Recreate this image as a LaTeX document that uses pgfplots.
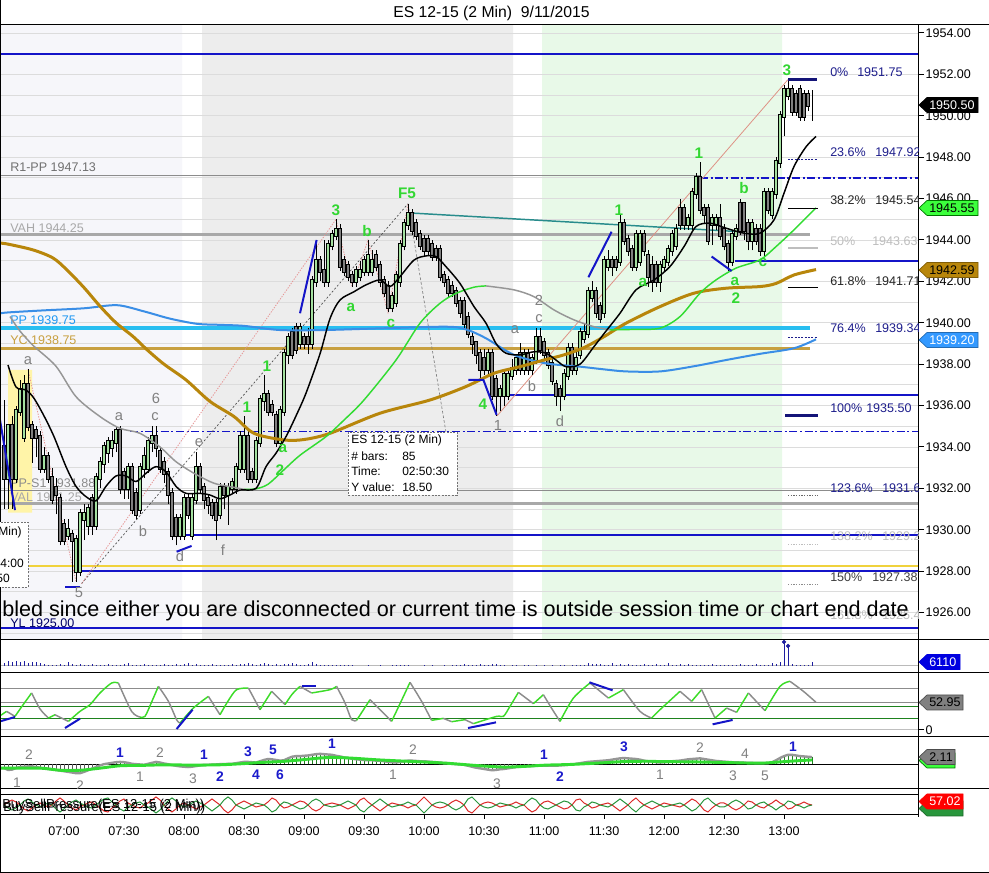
\documentclass[border=0pt]{standalone}
\usepackage{pgfplots}
\pgfplotsset{compat=1.18}
\usepackage{pgfplotstable}
\usepackage{fontspec}
\setmainfont{Liberation Sans}
\newcommand\fsz[1]{\fontsize{#1}{#1}\selectfont}

\definecolor{bgA}{RGB}{246,246,250}
\definecolor{bgB}{RGB}{237,237,237}
\definecolor{bgG}{RGB}{232,249,232}
\definecolor{gridc}{RGB}{220,220,220}
\definecolor{upc}{RGB}{164,224,160}
\definecolor{dnc}{RGB}{128,128,128}
\definecolor{lvblue}{RGB}{20,20,200}
\definecolor{navy2}{RGB}{20,20,120}
\definecolor{ppcyan}{RGB}{40,190,240}
\definecolor{ycgold}{RGB}{200,160,64}
\definecolor{vagray}{RGB}{168,168,168}
\definecolor{thgray}{RGB}{140,140,140}
\definecolor{ylw}{RGB}{240,210,60}
\definecolor{yelbox}{RGB}{255,244,168}
\definecolor{maGold}{RGB}{184,134,11}
\definecolor{maBlue}{RGB}{58,142,230}
\definecolor{maGray}{RGB}{150,150,150}
\definecolor{maGreen}{RGB}{50,220,50}
\definecolor{teal2}{RGB}{40,140,140}
\definecolor{wgreen}{RGB}{50,215,50}
\definecolor{wgray}{RGB}{128,128,128}
\definecolor{fibc}{RGB}{30,30,140}
\definecolor{fiblight}{RGB}{190,190,190}
\definecolor{volc}{RGB}{30,30,160}
\definecolor{oscgreen}{RGB}{60,220,40}
\definecolor{oscgray}{RGB}{140,140,140}
\definecolor{dkgreen}{RGB}{30,130,30}
\definecolor{bsred}{RGB}{220,40,40}
\definecolor{bsgreen}{RGB}{40,150,60}
\definecolor{pinkd}{RGB}{230,150,150}
\definecolor{tagGreen}{RGB}{60,255,60}
\definecolor{tagBlue}{RGB}{51,153,255}
\definecolor{volBlue}{RGB}{0,0,224}
\definecolor{lbldark}{RGB}{112,112,112}
\definecolor{lblblue}{RGB}{26,26,204}

\pgfplotstableread{
t o h l c v g r
30 1934.00 1936.25 1931.00 1932.50 4500 -1.2 0
32 1932.50 1935.00 1931.00 1935.00 7500 -1.8 3
34 1935.00 1935.50 1931.00 1932.50 6000 -1.7 5
36 1932.50 1936.00 1932.25 1935.75 7500 -1.2 3
38 1935.75 1937.25 1935.50 1936.75 6000 -0.9 0
40 1934.50 1937.50 1934.25 1937.00 7500 -0.8 -4
42 1937.00 1937.75 1934.75 1935.00 4500 -0.7 -6
44 1935.00 1935.25 1933.25 1934.50 6000 -0.7 -3
46 1934.75 1935.00 1933.50 1934.50 6000 -0.9 0
48 1934.50 1934.75 1932.75 1933.00 4500 -1.1 2
50 1933.00 1934.00 1932.75 1933.50 2250 -1.3 0
52 1933.50 1933.75 1932.25 1932.50 1500 -1.5 -2
54 1932.50 1933.00 1931.25 1931.50 1500 -1.6 0
56 1932.00 1932.50 1930.75 1931.75 1500 -1.8 4
58 1931.50 1931.75 1929.25 1929.50 2250 -2.0 7
60 1930.25 1930.50 1929.25 1929.50 1500 -2.2 4
62 1929.75 1930.50 1929.50 1930.00 6000 -2.4 0
64 1929.75 1930.00 1927.50 1929.50 2250 -2.6 -3
66 1928.00 1929.75 1927.50 1929.50 1500 -2.8 -5
68 1928.00 1931.00 1927.75 1930.75 2250 -2.8 -2
70 1930.50 1931.25 1929.50 1930.75 1500 -2.4 0
72 1930.25 1931.25 1929.75 1931.00 1500 -1.9 2
74 1931.50 1931.75 1929.75 1930.25 2250 -1.4 3
76 1930.25 1932.75 1930.00 1932.50 1500 -0.9 0
78 1932.50 1933.50 1932.00 1933.25 1500 -0.4 -3
80 1933.25 1934.25 1932.75 1934.00 1500 0.0 -6
82 1933.75 1934.50 1933.25 1934.25 2250 0.2 -7
84 1934.00 1934.75 1933.50 1934.25 1500 0.4 -3
86 1934.25 1935.00 1933.75 1934.75 1500 0.6 0
88 1934.75 1935.00 1931.75 1932.00 1500 0.7 4
90 1932.75 1933.00 1931.50 1932.00 2250 0.6 6
92 1932.00 1933.25 1931.50 1933.00 4500 0.4 2
94 1933.00 1933.25 1930.75 1931.00 1500 0.1 0
96 1931.75 1932.00 1930.50 1930.75 1500 0.0 -2
98 1931.00 1933.25 1930.75 1933.00 1500 -0.1 -3
100 1933.00 1934.00 1932.50 1933.50 2250 -0.2 0
102 1933.00 1934.50 1932.75 1934.25 1500 0.1 2
104 1934.25 1935.00 1933.75 1934.50 1500 0.4 5
106 1934.50 1935.00 1933.50 1934.00 1500 0.7 8
108 1933.75 1934.00 1932.75 1933.00 1500 0.5 5
110 1933.25 1933.50 1932.25 1932.75 2250 0.2 0
112 1932.75 1933.00 1931.25 1931.75 1500 0.0 -4
114 1931.75 1932.00 1929.50 1929.75 1500 -0.3 -7
116 1930.50 1930.75 1929.25 1929.75 2250 -0.5 -4
118 1929.75 1930.75 1929.50 1930.50 1500 -0.7 0
120 1929.75 1931.75 1929.50 1931.50 2250 -0.8 2
122 1931.50 1931.75 1930.50 1930.75 4500 -0.9 0
124 1929.75 1931.75 1929.50 1931.50 1500 -0.8 -2
126 1931.50 1933.75 1931.25 1933.00 2250 -0.6 -4
128 1933.00 1933.25 1931.75 1932.00 1500 -0.4 -2
130 1932.00 1932.25 1931.00 1931.50 1500 -0.2 0
132 1931.50 1931.75 1930.75 1931.25 1500 -0.2 3
134 1931.25 1931.50 1930.50 1930.75 2250 -0.1 6
136 1931.25 1931.50 1929.50 1930.50 1500 -0.1 3
138 1930.75 1932.25 1930.50 1932.00 1500 0.0 0
140 1932.00 1932.25 1931.00 1931.75 1500 0.0 -5
142 1931.75 1932.25 1930.25 1932.00 1500 0.1 -8
144 1932.00 1932.50 1931.75 1932.25 2250 0.1 -5
146 1932.00 1933.25 1931.75 1933.00 1500 0.3 0
148 1933.00 1934.75 1932.75 1934.50 2250 0.5 2
150 1933.00 1935.50 1932.75 1934.50 3000 0.7 4
152 1934.50 1934.75 1932.25 1932.50 4500 0.7 2
154 1932.75 1933.00 1932.25 1932.50 2250 0.6 0
156 1932.50 1934.50 1932.25 1934.25 1500 0.5 -2
158 1934.25 1936.50 1934.00 1936.25 3000 0.9 -1
160 1936.25 1937.50 1935.75 1936.50 4500 1.3 0
162 1936.50 1936.75 1935.50 1935.75 2250 1.6 3
164 1936.00 1936.25 1935.50 1935.75 1500 1.5 7
166 1935.50 1935.75 1934.00 1934.25 2250 1.3 5
168 1934.25 1936.00 1934.00 1935.75 1500 1.1 0
170 1935.75 1938.75 1935.50 1938.50 2250 1.2 -3
172 1938.50 1939.50 1938.00 1939.25 3000 1.8 -2
174 1939.50 1939.75 1938.25 1938.50 4500 2.3 0
176 1939.75 1940.00 1938.50 1938.75 2250 2.5 2
178 1939.00 1940.00 1938.75 1939.75 1500 2.5 4
180 1939.25 1939.50 1938.75 1939.00 1500 2.6 3
182 1939.25 1939.75 1938.50 1939.00 2250 2.7 0
184 1939.00 1942.25 1938.75 1942.00 6000 2.9 -4
186 1942.00 1944.00 1941.75 1943.00 2250 3.1 -6
188 1943.00 1943.25 1942.00 1942.50 1500 3.2 -4
190 1942.50 1944.00 1941.75 1942.00 1500 3.1 0
192 1942.00 1944.00 1941.75 1943.75 1500 3.0 1
194 1943.75 1944.50 1943.50 1944.25 1500 2.9 2
196 1944.25 1945.00 1944.00 1944.50 1500 2.6 1
198 1944.50 1944.75 1942.50 1942.75 1500 2.4 0
200 1943.00 1943.25 1942.25 1942.50 1500 2.1 -2
202 1942.75 1943.00 1942.00 1942.25 1500 1.9 -4
204 1942.25 1942.50 1941.75 1942.00 1500 1.7 -2
206 1942.00 1942.75 1941.75 1942.50 0 1.5 0
208 1942.25 1943.00 1942.00 1942.50 0 1.4 5
210 1942.50 1943.25 1942.25 1943.00 0 1.3 7
212 1942.50 1944.00 1942.25 1943.25 1500 1.2 3
214 1942.50 1943.50 1942.25 1943.00 0 1.2 0
216 1943.25 1943.50 1942.50 1942.75 0 1.1 -3
218 1942.75 1943.00 1941.75 1942.00 1500 1.1 -6
220 1942.00 1942.25 1941.25 1941.50 0 0.9 -3
222 1941.75 1942.00 1940.50 1940.75 0 0.7 0
224 1940.75 1941.50 1940.50 1941.25 1500 0.6 2
226 1941.00 1942.50 1940.75 1942.25 1500 0.5 1
228 1942.00 1944.00 1941.75 1943.75 1500 0.7 0
230 1943.75 1945.00 1943.50 1944.75 1500 0.9 -1
232 1944.75 1945.75 1944.50 1945.25 1500 1.1 -3
234 1945.25 1945.50 1944.25 1944.50 0 1.1 -1
236 1944.75 1945.00 1944.00 1944.25 0 1.0 0
238 1944.25 1944.50 1943.50 1943.75 0 0.9 4
240 1944.00 1944.25 1943.25 1943.50 1500 0.9 8
242 1944.00 1944.25 1943.25 1943.50 0 0.8 4
244 1943.75 1944.00 1943.00 1943.25 1500 0.7 0
246 1943.50 1943.75 1943.00 1943.25 0 0.6 -2
248 1943.50 1943.75 1942.00 1942.25 0 0.5 -3
250 1942.25 1942.50 1941.75 1942.00 1500 0.3 -2
252 1942.00 1942.25 1941.25 1941.50 0 0.3 0
254 1941.75 1942.00 1941.25 1941.50 1500 0.1 3
256 1941.50 1941.75 1940.75 1941.00 1500 0.0 5
258 1941.00 1941.25 1940.25 1940.50 1500 -0.1 3
260 1941.00 1941.25 1939.75 1940.00 3000 -0.2 0
262 1940.25 1940.50 1939.25 1939.50 1500 -0.5 -6
264 1939.25 1939.50 1938.50 1939.00 1500 -0.8 -8
266 1939.00 1939.00 1938.00 1938.50 1500 -1.1 -4
268 1938.50 1938.75 1937.25 1937.75 3000 -1.3 0
270 1938.25 1938.75 1937.50 1937.75 1500 -1.5 2
272 1937.75 1938.75 1937.50 1938.50 1500 -1.7 3
274 1938.50 1938.75 1936.25 1936.50 2250 -1.9 2
276 1937.25 1937.50 1935.50 1936.50 3000 -1.8 0
278 1936.50 1937.00 1935.75 1936.75 1500 -1.6 -2
280 1936.50 1937.75 1936.00 1937.50 1500 -1.5 -1
282 1936.50 1937.75 1936.25 1937.50 0 -1.3 0
284 1937.50 1938.25 1937.25 1937.75 1500 -1.1 1
286 1937.75 1938.50 1937.50 1938.25 1500 -0.9 3
288 1938.50 1939.00 1937.50 1937.75 0 -0.8 1
290 1937.75 1938.75 1937.50 1938.50 1500 -0.7 0
292 1938.50 1938.75 1937.50 1937.75 1500 -0.6 -4
294 1937.75 1938.50 1937.50 1938.25 0 -0.6 -7
296 1938.25 1939.75 1938.00 1939.25 1500 -0.5 -5
298 1939.25 1939.75 1938.50 1938.75 0 -0.5 0
300 1939.00 1939.25 1938.25 1938.50 1500 -0.5 3
302 1938.50 1938.75 1937.75 1938.00 0 -0.5 4
304 1938.00 1938.25 1937.00 1937.25 1500 -0.5 2
306 1937.00 1937.25 1936.00 1936.50 0 -0.5 0
308 1936.75 1937.00 1935.75 1936.50 1500 -0.4 -2
310 1936.50 1937.75 1936.25 1937.50 1500 -0.3 -4
312 1937.50 1939.00 1937.25 1938.75 0 -0.2 -3
314 1938.75 1939.00 1937.50 1937.75 1500 -0.1 0
316 1937.75 1938.75 1937.50 1938.25 1500 0.1 5
318 1938.50 1939.75 1938.25 1939.50 1500 0.3 6
320 1939.25 1940.00 1939.00 1939.50 1500 0.5 2
322 1939.50 1941.75 1939.25 1941.50 4500 0.7 0
324 1941.25 1942.00 1941.00 1941.50 2250 0.8 -3
326 1941.50 1941.75 1940.25 1940.50 2250 0.9 -2
328 1940.75 1941.00 1940.00 1940.25 3000 1.0 0
330 1940.50 1943.25 1940.25 1943.00 1500 1.1 1
332 1942.75 1943.50 1942.50 1943.00 1500 1.2 2
334 1943.00 1943.25 1942.25 1942.75 4500 1.4 0
336 1943.00 1943.25 1942.50 1942.75 1500 1.6 -3
338 1943.00 1945.25 1942.75 1944.75 2250 1.8 -6
340 1944.75 1945.00 1943.75 1944.00 1500 1.9 -3
342 1944.00 1944.25 1943.25 1943.50 2250 1.8 0
344 1943.50 1943.75 1942.50 1942.75 1500 1.7 4
346 1942.75 1944.50 1942.50 1944.25 1500 1.6 7
348 1943.00 1944.50 1942.75 1944.25 1500 1.4 3
350 1944.25 1944.50 1943.25 1943.50 2250 1.1 0
352 1943.25 1943.50 1941.75 1942.25 1500 0.9 -2
354 1942.75 1943.25 1941.50 1942.00 1500 0.8 -4
356 1942.75 1943.00 1941.75 1942.00 2250 0.6 -2
358 1942.00 1943.00 1941.50 1942.75 1500 0.5 0
360 1942.75 1943.25 1942.50 1943.00 1500 0.6 2
362 1943.00 1943.75 1942.75 1943.50 4500 0.7 1
364 1943.50 1944.50 1943.25 1944.25 1500 0.9 0
366 1943.75 1944.75 1943.50 1944.50 1500 1.0 -1
368 1945.50 1946.00 1944.50 1944.75 2250 1.1 -2
370 1945.50 1945.75 1944.50 1944.75 1500 1.3 0
372 1944.75 1945.25 1944.50 1945.00 3000 1.5 3
374 1944.75 1946.50 1944.50 1946.25 1500 1.6 6
376 1946.25 1947.25 1946.00 1947.00 1500 1.7 4
378 1947.00 1947.75 1945.25 1945.50 1500 1.8 0
380 1945.50 1945.75 1944.75 1945.25 1500 1.6 -5
382 1945.50 1945.75 1943.75 1944.00 1500 1.4 -7
384 1944.75 1945.25 1943.75 1945.00 2250 1.2 -3
386 1944.75 1945.25 1944.50 1945.00 1500 1.0 0
388 1945.00 1945.75 1944.00 1944.25 1500 0.9 2
390 1944.50 1944.75 1943.50 1943.75 1500 0.8 2
392 1943.75 1944.00 1942.50 1943.00 1500 0.7 0
394 1943.00 1944.50 1942.75 1944.25 1500 0.6 -3
396 1944.25 1944.75 1944.00 1944.50 1500 0.6 -5
398 1945.75 1946.00 1944.25 1944.50 2250 0.5 -3
400 1945.75 1945.75 1944.00 1944.50 1500 0.5 0
402 1944.75 1945.00 1943.50 1944.00 1500 0.4 4
404 1944.00 1945.00 1943.50 1944.75 1500 0.4 3
406 1944.50 1944.75 1943.75 1944.00 2250 0.3 0
408 1944.50 1944.75 1943.25 1943.50 1500 0.3 -2
410 1943.50 1946.50 1943.25 1946.25 1500 0.3 -3
412 1946.25 1946.50 1945.25 1945.50 1500 0.3 0
414 1945.25 1946.50 1945.00 1946.25 4500 0.6 2
416 1946.25 1948.00 1946.00 1947.75 2250 1.2 5
418 1947.75 1950.25 1947.50 1950.00 6000 1.9 2
420 1950.00 1951.50 1949.00 1951.25 36000 2.5 0
422 1951.00 1951.75 1950.75 1951.25 30000 2.9 -4
424 1951.25 1951.50 1950.00 1950.25 3000 2.9 -3
426 1951.00 1951.25 1950.00 1950.25 1500 2.7 0
428 1951.25 1951.50 1949.75 1950.00 1500 2.5 1
430 1951.00 1951.25 1949.75 1950.00 1500 2.4 3
432 1951.00 1951.25 1950.25 1950.50 1500 2.3 1
434 1950.50 1951.25 1949.75 1950.50 6110 2.2 0
}\bars

\pgfplotsset{
  panel/.style={scale only axis, anchor=south west, width=688.5pt, xmin=28, xmax=487,
    xtick=\empty, ytick=\empty, axis line style={line width=0.75pt, black}, clip=true},
  body/.style n args={3}{draw=none, mark=none, error bars/.cd, y dir=plus, y explicit, error mark=none,
    error bar style={draw=#2, line width=#1, line cap=#3}, /pgfplots/.cd},
  oG/.style={oscgreen, line width=1.1pt, smooth},
  oR/.style={oscgray, line width=1.1pt, smooth},
  lev/.style={lvblue, line width=1.5pt},
}

\newcommand{\ptag}[6]{%
  \filldraw[fill=#3, draw=#4, line width=0.5pt] (919,#1) -- (927,{#1-7.5}) -- (#2,{#1-7.5}) -- (#2,{#1+7.5}) -- (927,{#1+7.5}) -- cycle;
  \node[text=#5, anchor=west, inner sep=0pt, font=\fsz{9.4}] at (929,#1) {#6};}
\newcommand{\wg}[3]{\node[text=wgreen, font=\bfseries\fsz{11.5}, inner sep=0pt] at (#1,#2) {#3};}
\newcommand{\wy}[3]{\node[text=wgray, font=\fsz{11}, inner sep=0pt] at (#1,#2) {#3};}
\newcommand{\fl}[4]{\node[text=#4, anchor=west, inner sep=0pt, font=\fsz{9.4}] at (#1,#2) {#3};}
\newcommand{\pg}[3]{\node[text=wgray, font=\fsz{10.4}, inner sep=0pt] at (#1,#2) {#3};}
\newcommand{\pb}[3]{\node[text=lblblue, font=\bfseries\fsz{10.4}, inner sep=0pt] at (#1,#2) {#3};}

\begin{document}
\begin{tikzpicture}
\useasboundingbox (0,0) rectangle (741.75pt,654.75pt);
\fill[white] (0,0) rectangle (741.75pt,654.75pt);

% ================= MAIN PRICE PANEL =================
\begin{axis}[panel, at={(0pt,174.75pt)}, height=461.25pt, ymin=1924.676, ymax=1954.386,
  ytick={1926,1928,...,1954}, ytick pos=right, yticklabel pos=right, tick align=outside,
  major tick length=4.5pt, tick style={black, line width=0.75pt},
  yticklabel style={font=\fsz{9.4}, anchor=west, inner sep=1pt},
  yticklabel={\pgfmathprintnumber[fixed,fixed zerofill,precision=2,1000 sep={}]{\tick}},
  /pgf/number format/assume math mode=true]
% session backgrounds
\addplot[fill=bgA, draw=none] coordinates {(28,1924.6) (119,1924.6) (119,1954.5) (28,1954.5) (28,1924.6)};
\addplot[fill=bgB, draw=none] coordinates {(129,1924.6) (284.5,1924.6) (284.5,1954.5) (129,1954.5) (129,1924.6)};
\addplot[fill=bgG, draw=none] coordinates {(299,1924.6) (419,1924.6) (419,1954.5) (299,1954.5) (299,1924.6)};
\pgfplotsinvokeforeach{1925,...,1954}{\addplot[gridc, line width=0.6pt] coordinates {(28,#1) (487,#1)};}
\addplot[fill=yelbox, draw=none] coordinates {(32,1930.83) (44,1930.83) (44,1937.73) (32,1937.73) (32,1930.83)};
% level lines
\addplot[lev] coordinates {(28,1953) (487,1953)};
\addplot[thgray, line width=0.75pt] coordinates {(28,1947.13) (378,1947.13)};
\addplot[lvblue, line width=1.1pt, dash pattern=on 6pt off 2pt on 1.5pt off 2pt] coordinates {(378,1947.0) (487,1947.0)};
\addplot[vagray, line width=2.25pt] coordinates {(28,1944.25) (433,1944.25)};
\addplot[lev] coordinates {(395.5,1943.0) (487,1943.0)};
\addplot[ppcyan, line width=3pt] coordinates {(28,1939.75) (433,1939.75)};
\addplot[ycgold, line width=2.25pt] coordinates {(28,1938.75) (433,1938.75)};
\addplot[lev] coordinates {(281,1936.5) (487,1936.5)};
\addplot[lvblue, line width=1.1pt, dash pattern=on 6pt off 2pt on 1.5pt off 2pt] coordinates {(93,1934.75) (487,1934.75)};
\addplot[thgray, line width=0.75pt] coordinates {(28,1931.88) (487,1931.88)};
\addplot[vagray, line width=2.25pt] coordinates {(28,1931.25) (487,1931.25)};
\addplot[lev] coordinates {(118,1929.75) (487,1929.75)};
\addplot[ylw, line width=1.5pt] coordinates {(28,1928.25) (487,1928.25)};
\addplot[lev] coordinates {(68,1928.0) (487,1928.0)};
\addplot[lev] coordinates {(28,1925.25) (487,1925.25)};
% level labels
\node[anchor=west, inner sep=0pt, text=lbldark, font=\fsz{9.4}] at (axis cs:33,1947.53) {R1-PP 1947.13};
\node[anchor=west, inner sep=0pt, text=vagray, font=\fsz{9.4}] at (axis cs:33,1944.59) {VAH 1944.25};
\node[anchor=west, inner sep=0pt, text=ppcyan!80!blue, font=\fsz{9.4}] at (axis cs:33,1940.14) {PP 1939.75};
\node[anchor=west, inner sep=0pt, text=ycgold, font=\fsz{9.4}] at (axis cs:33,1939.17) {YC 1938.75};
\node[anchor=west, inner sep=0pt, text=thgray, font=\fsz{9.4}] at (axis cs:33,1932.27) {PP-S1 1931.88};
\node[anchor=west, inner sep=0pt, text=vagray, font=\fsz{9.4}] at (axis cs:33,1931.59) {VAL 1931.25};
\node[anchor=west, inner sep=0pt, text=black!60!blue, font=\fsz{9.4}] at (axis cs:33,1925.47) {YL 1925.00};
% thin drawing lines
\addplot[black!70, line width=0.5pt, dash pattern=on 1.5pt off 1.5pt] coordinates {(68.8,1927.4) (232,1945.75)};
\addplot[pinkd, line width=0.6pt, dash pattern=on 1pt off 1pt] coordinates {(68.8,1927.4) (196,1945.0) (204,1941.75) (212,1944.0) (222,1940.5) (232,1945.75)};
\addplot[pinkd, line width=0.6pt, dash pattern=on 1pt off 1pt] coordinates {(42,1937.75) (66,1927.5)};
\addplot[black!50, line width=0.5pt, dash pattern=on 2pt off 1.5pt] coordinates {(232,1945.75) (251,1934.7)};
\addplot[pinkd!80!brown, line width=0.6pt] coordinates {(276.5,1935.5) (422,1951.75)};
\addplot[teal2, line width=1.1pt] coordinates {(234,1945.3) (398,1944.4)};
% candles
\addplot[body={0.75pt}{black}{butt}] table[x=t, y=l, y error expr=\thisrow{h}-\thisrow{l}] {\bars};
\addplot[body={3pt}{black}{rect}] table[x=t, y expr={min(\thisrow{o},\thisrow{c})}, y error expr={abs(\thisrow{c}-\thisrow{o})}] {\bars};
\addplot[restrict expr to domain={\thisrow{c}-\thisrow{o}}{-0.001:100}, body={1.5pt}{upc}{rect}] table[x=t, y expr={min(\thisrow{o},\thisrow{c})}, y error expr={abs(\thisrow{c}-\thisrow{o})}] {\bars};
\addplot[restrict expr to domain={\thisrow{c}-\thisrow{o}}{-100:-0.01}, body={1.5pt}{dnc}{rect}] table[x=t, y expr={min(\thisrow{o},\thisrow{c})}, y error expr={abs(\thisrow{c}-\thisrow{o})}] {\bars};
% moving averages
\addplot[maBlue, line width=1.5pt, smooth] coordinates {(28,1940.45) (32,1940.5) (50,1940.6) (70,1940.7) (86.5,1940.85) (100,1940.55) (113,1940.2) (126.5,1939.95) (138,1939.9) (150,1939.85) (168,1939.65) (190,1939.65) (218,1939.73) (251,1939.81) (261,1939.68) (271,1939.25) (285,1938.45) (301,1938.04) (318,1937.88) (330,1937.75) (341,1937.65) (358,1937.65) (375,1937.9) (391,1938.2) (408,1938.5) (425,1938.77) (436,1939.2)};
\addplot[maGold, line width=2.25pt, smooth] coordinates {(28,1943.85) (32,1943.8) (44.5,1943.52) (54.5,1943.13) (61.5,1942.55) (70,1941.7) (78,1940.8) (86,1940.0) (94.5,1939.34) (101.5,1938.7) (110,1938.0) (121,1937.24) (133,1936.2) (145,1935.47) (155,1934.66) (170,1934.34) (180,1934.36) (193,1934.66) (218,1935.63) (243,1936.27) (261,1936.92) (275,1937.56) (288,1937.88) (300,1938.2) (310,1938.45) (320,1938.8) (330,1939.33) (341,1939.98) (358,1940.78) (375,1941.43) (391,1941.67) (408,1941.75) (416,1941.9) (425,1942.31) (436,1942.57)};
\addplot[maGray, line width=1.1pt, smooth] coordinates {(33,1940.3) (38,1939.6) (44.6,1938.9) (56,1937.9) (66,1936.43) (78,1935.47) (88,1934.9) (98,1934.66) (108,1934.0) (116,1933.29) (125,1932.73) (135,1932.25) (145,1932.05) (150,1931.95)};
\addplot[maGreen, line width=1.1pt, smooth] coordinates {(150,1931.95) (156,1931.98) (162,1932.2) (170,1932.9) (178,1933.6) (191,1934.5) (200,1935.3) (210,1936.27) (226,1938.2) (238,1939.98) (248,1940.94) (256,1941.42) (265,1941.72) (271,1941.78)};
\addplot[maGray, line width=1.1pt, smooth] coordinates {(271,1941.78) (285,1941.59) (295,1941.26) (305,1940.62) (315,1940.14) (325,1939.81) (333,1939.66)};
\addplot[maGreen, line width=1.1pt, smooth] coordinates {(333,1939.66) (345,1939.68) (358,1939.74) (368,1940.3) (378,1941.43) (386,1942.07) (396,1942.64) (408,1943.04) (416,1943.68) (425,1944.49) (436,1945.55)};
\addplot[black, line width=1.1pt, smooth] coordinates {(32,1937.96) (36,1936.9) (41,1936.75) (45,1936.35) (50,1935.5) (55,1934.5) (61,1933.05) (66,1932.1) (71,1931.6) (76,1931.4) (81,1932.1) (86,1932.6) (91,1932.6) (96,1932.33) (101,1932.73) (106,1933.05) (111,1932.8) (116,1932.1) (121,1931.76) (128,1931.76) (133,1931.68) (138,1931.5) (143,1931.68) (148,1931.92) (156,1932.0) (161,1933.05) (166,1933.7) (171,1934.5) (176,1935.5) (181,1936.6) (188,1938.5) (193,1940.2) (198,1941.1) (205,1941.5) (211,1941.83) (218,1942.07) (223,1941.75) (228,1942.23) (235,1943.03) (241,1943.23) (246,1943.2) (251,1942.71) (258,1941.9) (265,1940.78) (271,1939.98) (276,1939.0) (281,1938.53) (288,1938.45) (295,1938.6) (301,1938.53) (306,1938.2) (311,1937.88) (318,1938.0) (325,1938.85) (331,1939.6) (338,1940.46) (346,1941.59) (355,1942.07) (363,1942.72) (370,1943.68) (376,1944.65) (383,1944.81) (391,1944.57) (400,1944.33) (408,1944.33) (415,1944.97) (420,1946.26) (425,1947.55) (431,1948.5) (436,1949.0)};
% drawn blue segments
\addplot[lev] coordinates {(28,1935.3) (35.5,1930.95)};
\addplot[lev] coordinates {(60.5,1927.25) (68,1927.25)};
\addplot[lev] coordinates {(116.3,1928.94) (123.8,1929.22)};
\addplot[lev] coordinates {(178,1940.46) (186.3,1944.0)};
\addplot[lev] coordinates {(262.2,1937.24) (269.7,1937.24) (276.3,1935.55)};
\addplot[lev] coordinates {(322.2,1942.2) (333.8,1944.4)};
\addplot[lev] coordinates {(383.8,1943.2) (393.8,1942.5)};
% fibonacci short lines
\addplot[navy2, line width=2.25pt] coordinates {(422,1951.75) (436.5,1951.75)};
\addplot[fibc, line width=0.75pt, dash pattern=on 1.5pt off 1pt] coordinates {(422,1947.87) (437,1947.87)};
\addplot[black, line width=0.75pt] coordinates {(422,1945.5) (437,1945.5)};
\addplot[fiblight, line width=1.5pt] coordinates {(422,1943.6) (437,1943.6)};
\addplot[black, line width=0.75pt] coordinates {(422,1941.7) (437,1941.7)};
\addplot[fibc, line width=0.75pt, dash pattern=on 1.5pt off 1pt] coordinates {(422,1939.3) (437,1939.3)};
\addplot[navy2, line width=2.25pt] coordinates {(420.5,1935.5) (437,1935.5)};
\addplot[black!60, line width=0.6pt, dash pattern=on 1pt off 1pt] coordinates {(422,1931.67) (437,1931.67)};
\addplot[fiblight, line width=0.6pt, dash pattern=on 1pt off 1pt] coordinates {(422,1929.29) (437,1929.29)};
\addplot[black!45, line width=0.6pt, dash pattern=on 1pt off 1pt] coordinates {(422,1927.38) (437,1927.38)};
\end{axis}

% ================= VOLUME PANEL =================
\begin{axis}[panel, at={(0pt,150pt)}, height=24.75pt, ymin=-10500, ymax=39000]
\addplot[thgray!60, line width=0.75pt] coordinates {(28,0) (487,0)};
\addplot[ycomb, volc, line width=0.75pt] table[x=t, y=v] {\bars};
\addplot[only marks, mark=*, mark size=1.4pt, volc] coordinates {(420,36000) (422,30000)};
\end{axis}

% ================= OSCILLATOR PANEL =================
\begin{axis}[panel, at={(0pt,102pt)}, height=48pt, ymin=-14.07, ymax=109.2,
  ytick={0}, ytick pos=right, yticklabel pos=right, tick align=outside,
  major tick length=4.5pt, tick style={black, line width=0.75pt},
  yticklabel style={font=\fsz{9.4}, anchor=west, inner sep=1pt},
  yticklabel={0}]
\addplot[black!25, line width=0.75pt] coordinates {(28,0) (487,0)};
\addplot[thgray, line width=0.75pt] coordinates {(28,78.4) (487,78.4)};
\addplot[thgray, line width=0.75pt] coordinates {(28,53.3) (487,53.3)};
\addplot[dkgreen, line width=0.75pt] coordinates {(28,43.7) (487,43.7)};
\addplot[dkgreen, line width=0.75pt] coordinates {(28,20.6) (487,20.6)};
\addplot[oG] coordinates {(28.5,28) (31.3,35.3)};
\addplot[oR] coordinates {(31.3,35.3) (35.5,25.6)};
\addplot[oG] coordinates {(35.5,25.6) (39,45) (43.8,70.7)};
\addplot[oR] coordinates {(43.8,70.7) (48,40) (52.2,22.4)};
\addplot[oG] coordinates {(52.2,22.4) (55.5,28.8)};
\addplot[oR] coordinates {(55.5,28.8) (62.2,16.0)};
\addplot[oG] coordinates {(62.2,16.0) (68,35.3) (73,48.2) (78,70.7) (83.8,89.9) (87.2,89.9)};
\addplot[oR] coordinates {(87.2,89.9) (93.8,35.3) (98,24.4)};
\addplot[oG] coordinates {(98,24.4) (100.5,25.6) (104,55) (107.2,83.5)};
\addplot[oR] coordinates {(107.2,83.5) (112.2,54.6) (116.3,19.3) (118,12.8)};
\addplot[oG] coordinates {(118,12.8) (124.7,41.7) (132.2,64.2)};
\addplot[oR] coordinates {(132.2,64.2) (138,28.8)};
\addplot[oG] coordinates {(138,28.8) (142,55) (146.3,77.1) (152.2,80.3)};
\addplot[oR] coordinates {(152.2,80.3) (158,38.5)};
\addplot[oG] coordinates {(158,38.5) (163.8,73.9)};
\addplot[oR] coordinates {(163.8,73.9) (170.5,48.2)};
\addplot[oG] coordinates {(170.5,48.2) (174,68) (178,83.5)};
\addplot[oR] coordinates {(178,83.5) (183.8,70.7)};
\addplot[oG] coordinates {(183.8,70.7) (193,77.1) (196.3,83.5)};
\addplot[oR] coordinates {(196.3,83.5) (200.5,51.4) (203.8,19.3) (206.3,18.0)};
\addplot[oG] coordinates {(206.3,18.0) (213,57.8)};
\addplot[oR] coordinates {(213,57.8) (219.7,32.1) (223.8,16.0)};
\addplot[oG] coordinates {(223.8,16.0) (228,50) (233,91.2)};
\addplot[oR] coordinates {(233,91.2) (238.8,54.6) (243.8,18.0)};
\addplot[oG] coordinates {(243.8,18.0) (249.7,21.8)};
\addplot[oR] coordinates {(249.7,21.8) (253.8,15.4)};
\addplot[oG] coordinates {(253.8,15.4) (260.5,19.3)};
\addplot[oR] coordinates {(260.5,19.3) (264.7,11.6)};
\addplot[oG] coordinates {(264.7,11.6) (276.3,25.6) (279.7,25.6) (283,45) (287.2,71.9)};
\addplot[oR] coordinates {(287.2,71.9) (294.7,50.1)};
\addplot[oG] coordinates {(294.7,50.1) (299.7,67.4)};
\addplot[oR] coordinates {(299.7,67.4) (304,40) (308,16.0)};
\addplot[oG] coordinates {(308,16.0) (314.7,60.9) (323,89.9)};
\addplot[oR] coordinates {(323,89.9) (332.2,60.9)};
\addplot[oG] coordinates {(332.2,60.9) (339.7,77.1)};
\addplot[oR] coordinates {(339.7,77.1) (348,35.3) (353.8,22.4)};
\addplot[oG] coordinates {(353.8,22.4) (358,38.5) (368,73.9)};
\addplot[oR] coordinates {(368,73.9) (373.8,54.6)};
\addplot[oG] coordinates {(373.8,54.6) (378.8,77.1)};
\addplot[oR] coordinates {(378.8,77.1) (385.5,22.4)};
\addplot[oG] coordinates {(385.5,22.4) (391.3,41.7)};
\addplot[oR] coordinates {(391.3,41.7) (396.3,33.4)};
\addplot[oG] coordinates {(396.3,33.4) (402.2,70.7)};
\addplot[oR] coordinates {(402.2,70.7) (410.5,36.6)};
\addplot[oG] coordinates {(410.5,36.6) (418,83.5) (423,93.1)};
\addplot[oR] coordinates {(423,93.1) (429.7,73.9) (436,52.7)};
\addplot[lev] coordinates {(28,16) (35.5,24.4)};
\addplot[lev] coordinates {(60.5,3.2) (68,21.2)};
\addplot[lev] coordinates {(116.3,1.3) (124.3,38.5)};
\addplot[lev] coordinates {(178.8,83.5) (186,83.5)};
\addplot[lev] coordinates {(262,3.2) (276,14.1)};
\addplot[lev] coordinates {(322.7,91.2) (334.3,75.8)};
\addplot[lev] coordinates {(384.3,10.3) (394.3,18.7)};
\end{axis}

% ================= PANEL 3 =================
\begin{axis}[panel, at={(0pt,63pt)}, height=39pt, ymin=-7.72, ymax=8.44]
\addplot[black, line width=0.75pt] coordinates {(28,0) (487,0)};
\addplot[ycomb, dkgreen, line width=0.75pt, restrict expr to domain={\thisrow{g}}{0:10}] table[x=t, y=g] {\bars};
\addplot[ycomb, black!65, line width=0.75pt, restrict expr to domain={\thisrow{g}}{-10:-0.0001}] table[x=t, y=g] {\bars};
\addplot[maGray, line width=1.8pt] table[x=t, y=g] {\bars};
\addplot[maGreen, line width=2.2pt, smooth] coordinates {(28,-1.25) (48,-1.25) (58,-1.9) (68,-1.9) (78,-1.25) (88,-0.5) (98,-0.4) (111,-0.2) (125,-0.3) (138,-0.2) (148,0.1) (158,0.5) (168,0.8) (178,1.3) (188,1.9) (193,2.1) (203,1.9) (218,1.3) (235,0.8) (251,0.3) (268,-0.5) (280,-0.9) (290,-0.7) (301,-0.3) (313,-0.1) (326,0.3) (340,0.8) (353,0.9) (358,0.8) (375,0.7) (391,0.5) (408,0.3) (418,0.7) (428,1.1) (434,1.3)};
\end{axis}

% ================= PANEL 4 (BuySellPressure) =================
\begin{axis}[panel, at={(0pt,43.5pt)}, height=15pt, ymin=-10, ymax=10,
  xtick={60,90,...,420},
  xticklabels={07:00,07:30,08:00,08:30,09:00,09:30,10:00,10:30,11:00,11:30,12:00,12:30,13:00},
  xtick pos=bottom, tick align=outside, major tick length=3pt, tick style={black, line width=0.75pt},
  xticklabel style={font=\fsz{9.4}, yshift=-2pt}]
\addplot[bsred, line width=0.75pt] table[x=t, y=r] {\bars};
\addplot[bsgreen, line width=0.75pt] table[x=t, y expr=-\thisrow{r}] {\bars};
\end{axis}

% ================= ANNOTATIONS (pixel coordinates, y downward) =================
\begin{scope}[x=0.75pt, y=-0.75pt, shift={(0pt,654.75pt)}]
\draw[black, line width=0.75pt] (0,25) -- (989,25);
\draw[black, line width=0.75pt] (0,640) -- (989,640);
\draw[black, line width=0.75pt] (0,673) -- (989,673);
\draw[black, line width=0.75pt] (0,737) -- (989,737);
\draw[black, line width=0.75pt] (0,789) -- (989,789);
\draw[black, line width=0.75pt] (918,25) -- (918,817);
\draw[black, line width=1pt] (0.5,0) -- (0.5,873);
\draw[black, line width=1pt] (0,872.3) -- (989,872.3);
% title
\node[font=\fsz{11.8}, inner sep=0pt] at (491.5,13) {ES 12-15 (2 Min)\ \ 9/11/2015};
% wave labels
\wg{247}{407}{1} \wg{267}{366}{1} \wg{283}{448}{a} \wg{280}{470}{2}
\wg{336}{210}{3} \wg{351}{307}{a} \wg{367}{231}{b} \wg{391}{323}{c} \wg{407}{193}{F5}
\wg{483}{404}{4} \wg{619}{210}{1} \wg{643}{282}{a} \wg{699}{153}{1} \wg{744}{188}{b}
\wg{735}{281}{a} \wg{736}{298}{2} \wg{763}{262}{c} \wg{787}{70}{3}
\wy{28}{361}{a} \wy{79}{593}{5} \wy{119}{417}{a} \wy{156}{398}{6} \wy{155}{417}{c}
\wy{143}{531}{b} \wy{199}{443}{e} \wy{180}{556}{d} \wy{223}{550}{f}
\wy{498}{425}{1} \wy{515}{330}{a} \wy{532}{386}{b} \wy{539}{319}{c} \wy{539}{300}{2} \wy{560}{421}{d}
% fib labels
\begin{scope}
\clip (0,25) rectangle (918,640);
\fl{830}{72}{0\%}{fibc} \fl{857}{72}{1951.75}{fibc}
\fl{830}{152}{23.6\%}{fibc} \fl{875}{152}{1947.92}{fibc}
\fl{830}{200}{38.2\%}{black!85} \fl{875}{200}{1945.54}{black!85}
\fl{830}{241}{50\%}{fiblight} \fl{872}{241}{1943.63}{fiblight}
\fl{830}{281}{61.8\%}{black!85} \fl{875}{281}{1941.71}{black!85}
\fl{830}{328}{76.4\%}{fibc} \fl{875}{328}{1939.34}{fibc}
\fl{830}{408}{100\%}{fibc} \fl{866}{408}{1935.50}{fibc}
\fl{830}{488}{123.6\%}{fibc} \fl{882}{488}{1931.67}{fibc}
\fl{830}{536}{138.2\%}{fiblight} \fl{882}{536}{1929.29}{fiblight}
\fl{830}{577}{150\%}{black!75} \fl{872}{577}{1927.38}{black!75}
\fl{830}{615}{161.8\%}{fiblight} \fl{882}{615}{1925.46}{fiblight}
% left partial tooltip
\filldraw[fill=white, draw=black!55, dash pattern=on 1.5pt off 1pt, line width=0.5pt] (-10,522) rectangle (28,587);
\node[anchor=east, inner sep=0pt, font=\fsz{9}] at (22,532) {Min)};
\node[anchor=east, inner sep=0pt, font=\fsz{9}] at (24,563) {4:00};
\node[anchor=east, inner sep=0pt, font=\fsz{9}] at (10,578) {50};
% banner text
\node[anchor=west, inner sep=0pt, font=\fsz{16.2}] at (2,611) {bled since either you are disconnected or current time is outside session time or chart end date};
\end{scope}
% measuring tooltip
\filldraw[fill=white, draw=black!55, dash pattern=on 1.5pt off 1pt, line width=0.5pt] (348,432) rectangle (457,495);
\node[anchor=west, inner sep=0pt, font=\fsz{9}] at (351,440) {ES 12-15 (2 Min)};
\node[anchor=west, inner sep=0pt, font=\fsz{9}] at (351,456) {\# bars:};
\node[anchor=west, inner sep=0pt, font=\fsz{9}] at (402,456) {85};
\node[anchor=west, inner sep=0pt, font=\fsz{9}] at (351,471) {Time:};
\node[anchor=west, inner sep=0pt, font=\fsz{9}] at (402,471) {02:50:30};
\node[anchor=west, inner sep=0pt, font=\fsz{9}] at (351,487) {Y value:};
\node[anchor=west, inner sep=0pt, font=\fsz{9}] at (402,487) {18.50};
% panel 3 labels
\begin{scope}
\clip (0,737) rectangle (918,789);
\pg{29}{755}{2} \pg{17}{783}{1} \pg{80}{786}{2} \pb{120}{753}{1} \pg{160}{753}{2} \pg{140}{777}{1}
\pb{204}{755}{1} \pg{193}{779}{3} \pb{220}{777}{2} \pb{248}{752}{3} \pb{273}{750}{5} \pb{256}{775}{4} \pb{280}{775}{6}
\pb{332}{744}{1} \pg{413}{750}{2} \pg{393}{775}{1} \pg{497}{784}{3} \pb{544}{755}{1} \pb{560}{777}{2} \pb{624}{747}{3}
\pg{660}{775}{1} \pg{700}{748}{2} \pg{745}{754}{4} \pg{733}{776}{3} \pg{765}{776}{5} \pb{793}{747}{1}
\end{scope}
% panel 4 title (overprinted)
\node[anchor=west, inner sep=0pt, font=\fsz{9.7}] at (2,805) {BuySellPressure(ES 12-15 (2 Min))};
\node[anchor=west, inner sep=0pt, font=\fsz{9.7}] at (3,808.5) {BuySellPressure(ES 12-15 (2 Min))};
% price tags
\ptag{105}{978}{black}{black}{white}{1950.50}
\ptag{208}{978}{tagGreen}{green!45!black}{black}{1945.55}
\ptag{270}{978}{maGold}{maGold!70!black}{black}{1942.59}
\ptag{340}{978}{tagBlue}{tagBlue!70!black}{white}{1939.20}
\ptag{662}{960}{volBlue}{volBlue}{white}{6110}
\ptag{702.5}{963}{gray}{black!70}{black}{52.95}
\ptag{760.5}{955}{tagGreen}{green!45!black}{black}{}
\ptag{757}{955}{gray}{black!70}{black}{2.11}
\ptag{808.5}{963}{bsgreen}{bsgreen!70!black}{white}{}
\ptag{801.5}{963}{red}{red}{white}{57.02}
\end{scope}
\end{tikzpicture}
\end{document}
